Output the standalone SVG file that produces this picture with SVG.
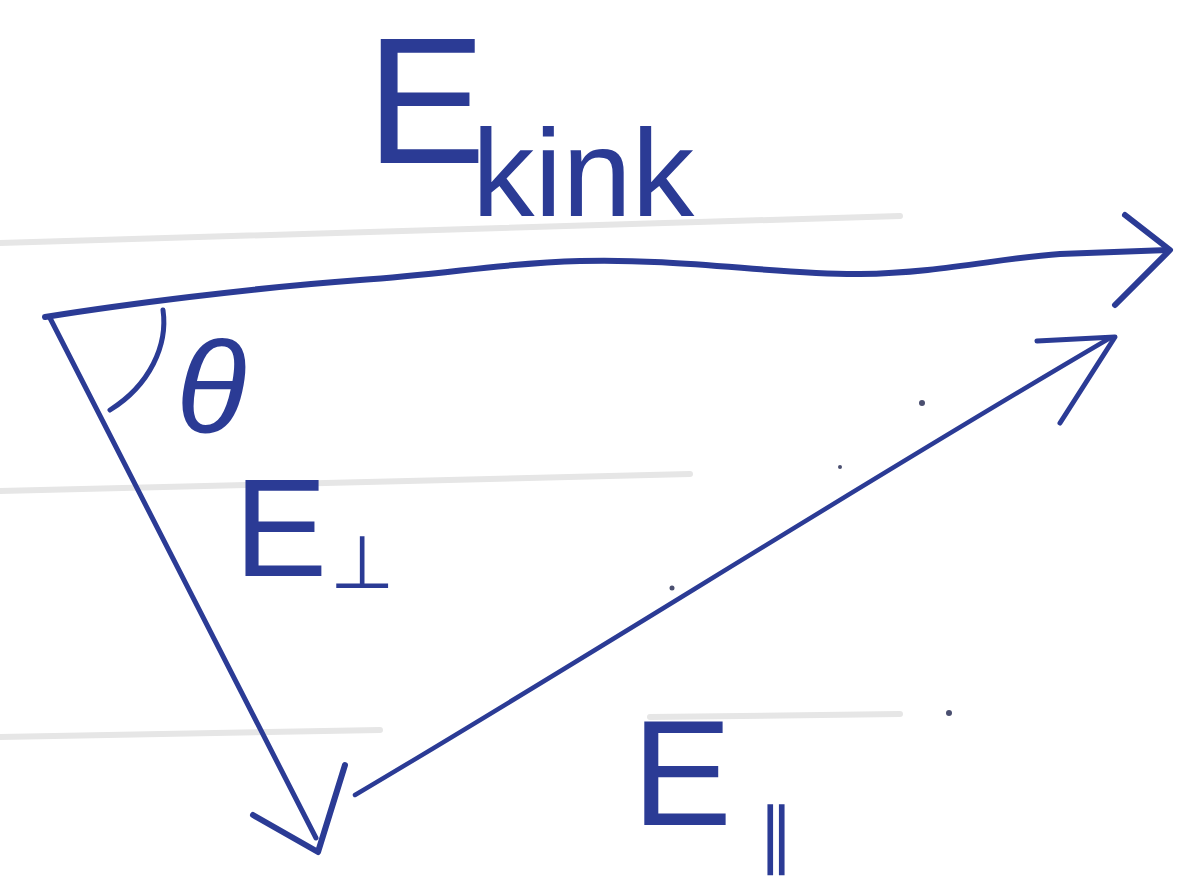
<svg xmlns="http://www.w3.org/2000/svg" width="1177" height="888" viewBox="0 0 1177 888">
<style>
.rule{fill:none;stroke:#e6e6e6;stroke-width:6;stroke-linecap:round}
.ink{fill:none;stroke:#2b3b95;stroke-linecap:round;stroke-linejoin:round}
.lbl{fill:#2b3b95;font-family:"Liberation Sans",Arial,sans-serif}
.sym{fill:#2b3b95;font-family:"DejaVu Sans",sans-serif}
.dot{fill:#4a4f70}
</style>
<rect width="1177" height="888" fill="#ffffff"/>
<g id="ruled-lines">
<path class="rule" d="M0,243 L900,216"/>
<path class="rule" d="M0,491 L690,474"/>
<path class="rule" d="M0,737 L380,730"/>
<path class="rule" d="M650,717 L900,714"/>
</g>
<g id="connectors">
<path class="ink" stroke-width="6" d="M45,317 C120,305 250,288 360,280 C450,274 500,263 580,261 C680,258 780,275 860,274 C940,273 1000,258 1060,254 L1168,250"/>
<path class="ink" stroke-width="6" d="M1125,215 L1170,250 L1115,305"/>
<path class="ink" stroke-width="5" d="M50,318 L316,838"/>
<path class="ink" stroke-width="6" d="M253,815 L318,852 L345,765"/>
<path class="ink" stroke-width="4.5" d="M355,795 C600,650 850,490 1110,338"/>
<path class="ink" stroke-width="5" d="M1037,341 L1115,337 L1060,423"/>
<path class="ink" stroke-width="5" d="M163,310 C168,345 150,385 110,410"/>
</g>
<g id="label-ekink">
<text class="lbl" x="366" y="163" font-size="180">E</text>
<text class="lbl" x="472" y="216" font-size="125">kink</text>
</g>
<g id="label-theta">
<text class="lbl" x="176" y="432" font-size="130" font-style="italic">θ</text>
</g>
<g id="label-eperp">
<text class="lbl" x="234" y="576" font-size="140">E</text>
<text class="sym" x="330" y="588" font-size="74">⊥</text>
</g>
<g id="label-epar">
<text class="lbl" x="632" y="825" font-size="150">E</text>
<text class="sym" x="758" y="860" font-size="72">∥</text>
</g>
<g id="specks">
<circle class="dot" cx="922" cy="403" r="3"/>
<circle class="dot" cx="840" cy="467" r="2"/>
<circle class="dot" cx="672" cy="588" r="2.5"/>
<circle class="dot" cx="949" cy="713" r="3"/>
</g>
</svg>
